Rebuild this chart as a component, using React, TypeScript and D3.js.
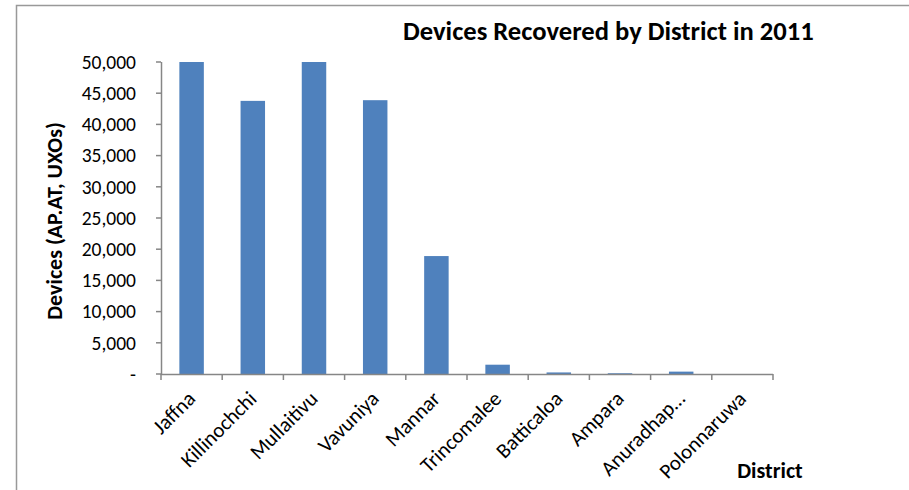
import React from "react";
import * as d3 from "d3";

const categories = ["Jaffna", "Killinochchi", "Mullaitivu", "Vavuniya", "Mannar", "Trincomalee", "Batticaloa", "Ampara", "Anuradhap…", "Polonnaruwa"];
const values = [50000, 43770, 50000, 43880, 18900, 1490, 250, 120, 380, 0];
const yTicks = [0, 5000, 10000, 15000, 20000, 25000, 30000, 35000, 40000, 45000, 50000];
const title = "Devices Recovered by District in 2011";
const yTitle = "Devices (AP.AT, UXOs)";
const xTitle = "District";

const W = 909, H = 490;
const left = 161, right = 773, top = 62, bottom = 374;
const font = "Calibri, Carlito, 'Open Sans', sans-serif";

export default function App() {
  const x = d3.scaleBand<string>().domain(categories).range([left, right]).paddingInner(0.6).paddingOuter(0.3);
  const xb = d3.scaleBand<string>().domain(categories).range([left, right]);
  const y = d3.scaleLinear().domain([0, 50000]).range([bottom, top]);
  const fmt = (v: number) => (v === 0 ? "-" : d3.format(",")(v));
  const axisColor = "#868686";
  return (
    <svg width={W} height={H} style={{ position: "absolute", left: 0, top: 0, background: "#fff" }} fontFamily={font}>
      <rect x={16.5} y={5.5} width={W} height={H} fill="#fff" stroke="#999" strokeWidth={1.5} />
      <text x={403} y={40} fontSize={26.6} fontWeight="bold" fill="#000">{title}</text>
      {values.map((v, i) => (
        <rect key={i} x={x(categories[i])} y={y(v)} width={x.bandwidth()} height={bottom - y(v)} fill="#4F81BD" />
      ))}
      <line x1={left + 0.5} x2={left + 0.5} y1={top} y2={bottom} stroke={axisColor} strokeWidth={1.5} />
      {yTicks.map((t) => (
        <g key={t}>
          <line x1={left - 5} x2={left} y1={y(t)} y2={y(t)} stroke={axisColor} strokeWidth={1.5} />
          <text x={136} y={y(t)} dy="0.35em" textAnchor="end" fontSize={19.5} fill="#000">{fmt(t)}</text>
        </g>
      ))}
      <line x1={left} x2={right} y1={bottom + 0.5} y2={bottom + 0.5} stroke={axisColor} strokeWidth={1.5} />
      {categories.map((c, i) => (
        <line key={"t" + i} x1={xb(c)!} x2={xb(c)!} y1={bottom} y2={bottom + 6} stroke={axisColor} strokeWidth={1.5} />
      ))}
      <line x1={right} x2={right} y1={bottom} y2={bottom + 6} stroke={axisColor} strokeWidth={1.5} />
      {categories.map((c) => {
        const cx = xb(c)! + xb.bandwidth() / 2 + 5;
        const cy = bottom + 26;
        return (
          <text key={"l" + c} x={cx} y={cy} textAnchor="end" fontSize={21} fill="#000" transform={`rotate(-45 ${cx} ${cy})`}>{c}</text>
        );
      })}
      <text transform={`translate(62 221) rotate(-90)`} textAnchor="middle" fontSize={22} fontWeight="bold" fill="#000">{yTitle}</text>
      <text x={770} y={478} textAnchor="middle" fontSize={22} fontWeight="bold" fill="#000">{xTitle}</text>
    </svg>
  );
}
